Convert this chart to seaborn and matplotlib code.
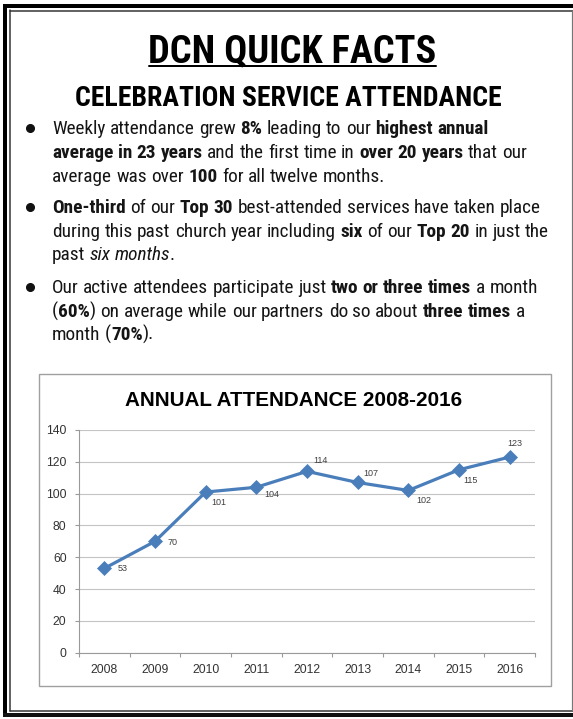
import numpy as np
import pandas as pd
import matplotlib
matplotlib.use("Agg")
import matplotlib.pyplot as plt
import seaborn as sns
from matplotlib import font_manager as fm
from matplotlib.patches import Rectangle

# ---------------- data ----------------
years = ["2008", "2009", "2010", "2011", "2012", "2013", "2014", "2015", "2016"]
attendance = [53, 70, 101, 104, 114, 107, 102, 115, 123]
y_ticks = [0, 20, 40, 60, 80, 100, 120, 140]

title = "DCN QUICK FACTS"
subtitle = "CELEBRATION SERVICE ATTENDANCE"
chart_title = "ANNUAL ATTENDANCE 2008-2016"

bullet1 = [
    [("Weekly attendance grew ", "n"), ("8%", "b"), (" leading to our ", "n"), ("highest annual", "b")],
    [("average in 23 years", "b"), (" and the first time in ", "n"), ("over 20 years", "b"), (" that our", "n")],
    [("average was over ", "n"), ("100", "b"), (" for all twelve months.", "n")],
]
bullet2 = [
    [("One-third", "b"), (" of our ", "n"), ("Top 30", "b"), (" best-attended services have taken place", "n")],
    [("during this past church year including ", "n"), ("six", "b"), (" of our ", "n"), ("Top 20", "b"), (" in just the", "n")],
    [("past ", "n"), ("six months", "i"), (".", "n")],
]
bullet3 = [
    [("Our active attendees participate just ", "n"), ("two or three times", "b"), (" a month", "n")],
    [("(", "n"), ("60%", "b"), (") on average while our partners do so about ", "n"), ("three times", "b"), (" a", "n")],
    [("month (", "n"), ("70%", "b"), (").", "n")],
]
bullets = [bullet1, bullet2, bullet3]

# data-label offsets in px: (dx, dy downward)
label_offsets = [(18, 0), (18, 1), (13, 10), (15, 7), (14, -11), (13, -9), (15, 10), (12, 11), (5, -14)]

# ---------------- style ----------------
sns.set_theme(style="white")
names = {f.name for f in fm.fontManager.ttflist}
NARROW = "Liberation Sans"
for cand in ["Liberation Sans Narrow", "Arial Narrow", "Roboto Condensed", "PT Sans Narrow",
             "Pragati Narrow", "Archivo Narrow", "Barlow Condensed"]:
    if cand in names:
        NARROW = cand
        break
REG = "Liberation Sans"
plt.rcParams["font.family"] = [REG, "DejaVu Sans"]

BLUE = "#4A7EBB"
W, H = 573, 719
fig = plt.figure(figsize=(W / 100, H / 100), dpi=100)
fig.patch.set_facecolor("white")
bg = fig.add_axes([0, 0, 1, 1], zorder=0)
bg.set_xlim(0, W)
bg.set_ylim(H, 0)
bg.axis("off")
renderer = fig.canvas.get_renderer()


def style_kw(style, size, family=NARROW):
    kw = dict(fontsize=size, family=[family, "DejaVu Sans"], color="#151515")
    if style == "b":
        kw["fontweight"] = "bold"
    elif style == "i":
        kw["fontstyle"] = "italic"
    return kw


def text_width(s, **kw):
    t = bg.text(0, 0, s, **kw)
    w = t.get_window_extent(renderer).width
    t.remove()
    return w


def runs(x, y, parts, size, draw=True):
    x0 = x
    for s, st in parts:
        kw = style_kw(st, size)
        sp = text_width("a a", **kw) - text_width("aa", **kw)
        words = s.split(" ")
        for i, wd in enumerate(words):
            if i > 0:
                x += sp
            if wd:
                if draw:
                    t = bg.text(x, y, wd, va="baseline", ha="left", **kw)
                    x += t.get_window_extent(renderer).width
                else:
                    x += text_width(wd, **kw)
        if st == "i":
            x -= 0.8
    return x - x0


def fit_size(s, target, **kw):
    w = text_width(s, fontsize=10, **kw)
    return 10 * target / w


k = 0.72  # px -> pt

# ---------------- frame ----------------
bg.plot([5, 5], [4, 717], color="black", lw=4 * k, solid_capstyle="butt")
bg.plot([3, W], [6, 6], color="black", lw=4 * k, solid_capstyle="butt")
bg.plot([3, W], [715, 715], color="#111111", lw=4 * k, solid_capstyle="butt")
bg.plot([10, 10], [10, 711], color="#333333", lw=1.5 * k)
bg.plot([10, W], [10.5, 10.5], color="#333333", lw=1.5 * k)
bg.plot([10, W], [710.5, 710.5], color="#333333", lw=1.5 * k)
bg.plot([572, 572], [11, 710], color="#777777", lw=1.2 * k)

# ---------------- headings ----------------
ts = fit_size(title, 287, family=[NARROW], fontweight="bold")
bg.text(292, 62, title, ha="center", va="baseline", fontsize=ts,
        family=[NARROW, "DejaVu Sans"], fontweight="bold", color="black")
bg.plot([149, 436], [66, 66], color="black", lw=2 * k)

ss = fit_size(subtitle, 424, family=[NARROW], fontweight="bold")
bg.text(288, 106, subtitle, ha="center", va="baseline", fontsize=ss,
        family=[NARROW, "DejaVu Sans"], fontweight="bold", color="black")

# ---------------- bullets ----------------
full_lines = [bullet1[0], bullet1[1], bullet2[0], bullet2[1], bullet3[0], bullet3[1]]
wsum = sum(runs(0, 0, ln, 10, draw=False) for ln in full_lines)
bsize = 10 * 2842 / wsum
baselines = [[134, 158, 182], [213, 237, 260], [293, 317, 340]]
for blk, bl in zip(bullets, baselines):
    bg.plot(30, bl[0] - 6, "o", ms=5.5, color="#111111")
    for line, yb in zip(blk, bl):
        runs(52, yb, line, bsize)

# ---------------- chart box ----------------
bg.add_patch(Rectangle((38.5, 374), 512, 312, fill=False, ec="#a0a0a0", lw=1.4 * k))
cs = fit_size(chart_title, 336, family=[REG], fontweight="bold")
bg.text(294, 406.5, chart_title, ha="center", va="baseline", fontsize=cs,
        family=[REG, "DejaVu Sans"], fontweight="bold", color="black")

# ---------------- line chart ----------------
L, R, T, B = 79, 535, 430, 652.7
ax = fig.add_axes([L / W, 1 - B / H, (R - L) / W, (B - T) / H], zorder=2)
ax.patch.set_alpha(0)
df = pd.DataFrame({"idx": np.arange(len(years)), "Year": years, "Attendance": attendance})
sns.lineplot(data=df, x="idx", y="Attendance", ax=ax, color=BLUE, lw=2.3,
             marker="D", markersize=7.5, markeredgecolor=BLUE, markeredgewidth=0.5)

ax.set_xlim(-0.5, len(years) - 0.5)
ax.set_ylim(0, 140)
ax.set_yticks(y_ticks)
ax.set_yticklabels([str(v) for v in y_ticks])
ax.set_xticks(np.arange(len(years)))
ax.set_xticklabels(years)
ax.set_xticks(np.arange(-0.5, len(years)), minor=True)
ax.set_xlabel("")
ax.set_ylabel("")
ax.grid(axis="y", color="#c4c4c4", lw=0.8)
ax.grid(axis="x", visible=False)
ax.set_axisbelow(True)
for s in ["top", "right"]:
    ax.spines[s].set_visible(False)
for s in ["left", "bottom"]:
    ax.spines[s].set_color("#9a9a9a")
    ax.spines[s].set_linewidth(0.8)
ax.tick_params(axis="x", which="major", length=0, pad=8, labelsize=8.7, labelcolor="#333333")
ax.tick_params(axis="x", which="minor", length=3, width=0.8, color="#9a9a9a", direction="out", bottom=True)
ax.tick_params(axis="y", which="major", length=3, width=0.8, color="#9a9a9a", direction="out",
               left=True, pad=6, labelsize=8.7, labelcolor="#333333")
for lab in ax.get_xticklabels() + ax.get_yticklabels():
    lab.set_family([REG, "DejaVu Sans"])

for i, (v, (dx, dy)) in enumerate(zip(attendance, label_offsets)):
    ax.annotate(str(v), (i, v), xytext=(dx * k, -dy * k), textcoords="offset points",
                ha="center", va="center", fontsize=6.5, color="#404040",
                family=[REG, "DejaVu Sans"])

fig.savefig("out.png", dpi=100)
